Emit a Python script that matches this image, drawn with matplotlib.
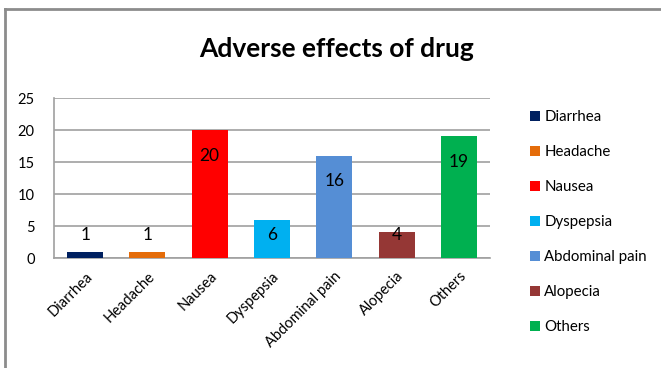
import matplotlib
matplotlib.use('Agg')
import matplotlib.pyplot as plt
from matplotlib.lines import Line2D
from matplotlib.patches import Patch

plt.rcParams['font.family'] = ['Lato', 'DejaVu Sans']

# data
effects = ['Diarrhea', 'Headache', 'Nausea', 'Dyspepsia', 'Abdominal pain', 'Alopecia', 'Others']
counts = [1, 1, 20, 6, 16, 4, 19]
colors = ['#002060', '#E46C0A', '#FF0000', '#00B0F0', '#558ED5', '#953735', '#00B050']

fig = plt.figure(figsize=(6.61, 3.68), dpi=100)
ax = fig.add_axes([54 / 661, 1 - 258 / 368, (490 - 54) / 661, 160 / 368])

x = range(len(effects))
ax.bar(x, counts, width=0.58, color=colors, zorder=3)

# data labels, near the top of each bar
for i, v in enumerate(counts):
    ax.text(i, max(v - 4, 3.6), str(v), ha='center', va='center', fontsize=12.5, color='black', zorder=4)

ax.set_xlim(-0.5, len(effects) - 0.5)
ax.set_ylim(0, 25)
ax.set_yticks([0, 5, 10, 15, 20, 25])
ax.grid(axis='y', color='#a0a0a0', linewidth=1.2, zorder=0)
ax.set_xticks(list(x))
ax.set_xticklabels(effects, rotation=45, ha='right', rotation_mode='anchor', fontsize=10.5)
ax.tick_params(axis='both', length=0, labelsize=10.5)
ax.tick_params(axis='y', pad=14)
ax.tick_params(axis='x', pad=8)
for s in ['top', 'right']:
    ax.spines[s].set_visible(False)
for s in ['left', 'bottom']:
    ax.spines[s].set_color('#a0a0a0')
    ax.spines[s].set_linewidth(1.2)

handles = [Patch(facecolor=c) for c in colors]
fig.legend(handles, effects, loc='upper left', bbox_to_anchor=(524 / 661, 1 - 104 / 368),
           frameon=False, fontsize=10.8, handlelength=0.65, handleheight=0.65,
           handletextpad=0.3, labelspacing=1.4, borderaxespad=0)

fig.text(337 / 661, 1 - 49 / 368, 'Adverse effects of drug', ha='center', va='center',
         fontsize=19, fontweight='bold')

# outer chart frame
fig.add_artist(Line2D([5 / 661, 5 / 661], [0, 1 - 9 / 368], color='#8c8c8c', linewidth=2))
fig.add_artist(Line2D([5 / 661, 1], [1 - 9 / 368, 1 - 9 / 368], color='#8c8c8c', linewidth=2))

fig.savefig('out.png', dpi=100)
